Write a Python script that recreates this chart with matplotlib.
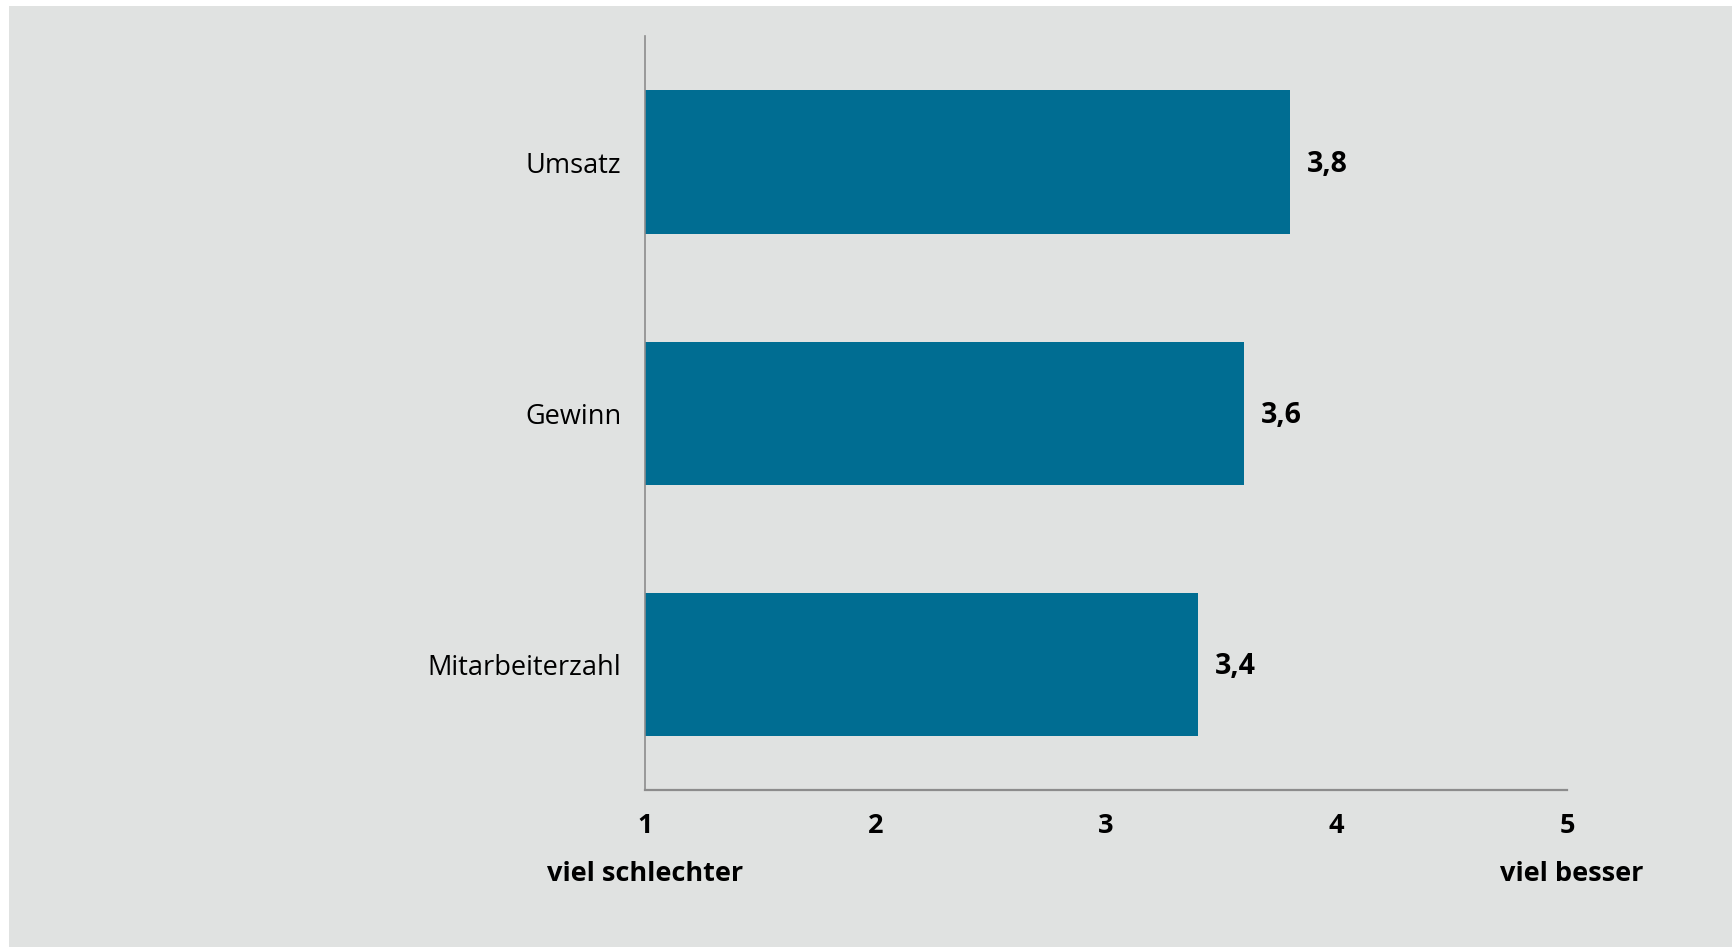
import matplotlib.pyplot as plt
from matplotlib.patches import Rectangle

# survey results: mean rating on a 1..5 scale
categories = ['Umsatz', 'Gewinn', 'Mitarbeiterzahl']
values = [3.8, 3.6, 3.4]
xticks = [1, 2, 3, 4, 5]
scale_ends = ['viel schlechter', 'viel besser']

plt.rcParams['font.family'] = ['Open Sans', 'DejaVu Sans']

bar_color = '#006d92'
bg_color = '#e0e2e1'
axis_color = '#8c8c8c'

fig = plt.figure(figsize=(17.35, 9.47), dpi=100)
fig.patch.set_facecolor('white')
# grey panel behind the chart, open at the bottom
fig.patches.append(Rectangle((9 / 1735, 0), 1723 / 1735, 941 / 947,
                             transform=fig.transFigure, facecolor=bg_color,
                             edgecolor='none', zorder=-5))

ax = fig.add_axes([0.3718, 0.1658, 0.5314, 0.7957])
ax.set_facecolor('none')

ypos = list(range(len(categories)))
ax.barh(ypos, [v - 1 for v in values], left=1, height=0.57, color=bar_color)

for y, v in zip(ypos, values):
    ax.text(v + 0.07, y + 0.01, '{:.1f}'.format(v).replace('.', ','), va='center',
            ha='left', fontsize=20.5, fontweight='bold', color='black')

ax.set_xlim(1, 5)
ax.set_ylim(2.5, -0.5)
ax.set_yticks(ypos)
ax.set_yticklabels(categories, fontsize=19.5)
ax.set_xticks(xticks)
ax.set_xticklabels([str(t) for t in xticks], fontsize=19.5, fontweight='bold')
ax.tick_params(axis='y', length=0, pad=17)
ax.tick_params(axis='x', length=0, pad=16.5)

for side in ['top', 'right']:
    ax.spines[side].set_visible(False)
ax.spines['left'].set_color(axis_color)
ax.spines['left'].set_linewidth(1.2)
ax.spines['bottom'].set_color(axis_color)
ax.spines['bottom'].set_linewidth(1.6)

# labels under both ends of the scale
ax.text(1, -0.111, scale_ends[0], transform=ax.get_xaxis_transform(),
        ha='center', va='center', fontsize=19.5, fontweight='bold')
ax.text(5.02, -0.111, scale_ends[1], transform=ax.get_xaxis_transform(),
        ha='center', va='center', fontsize=19.5, fontweight='bold')

fig.savefig('out.png', dpi=100, facecolor=fig.get_facecolor())
